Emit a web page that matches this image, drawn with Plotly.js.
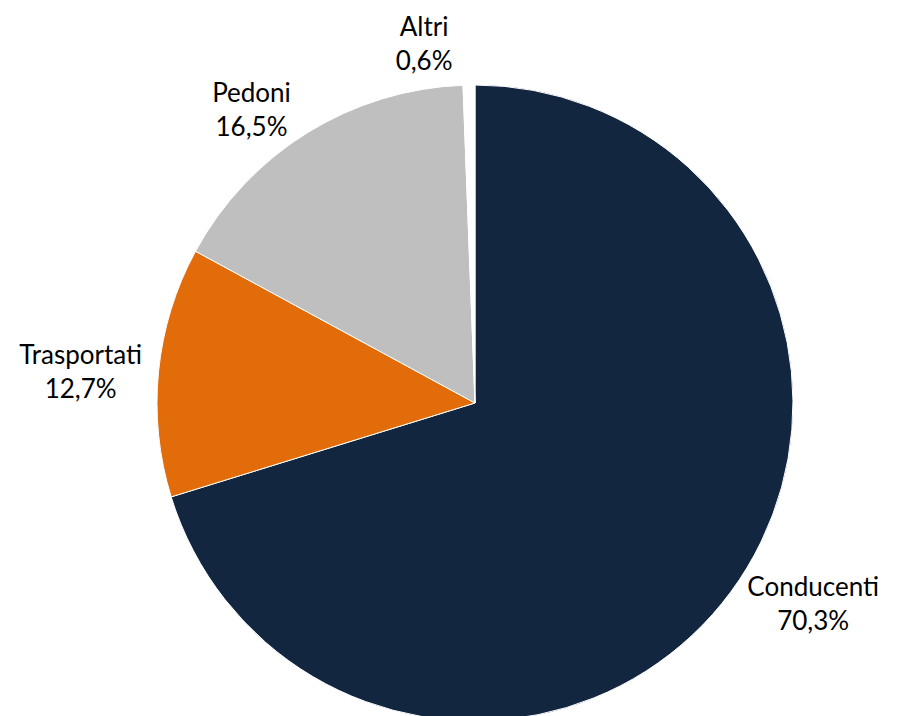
<!DOCTYPE html>
<html>
<head>
<meta charset="utf-8">
<script src="https://cdn.plot.ly/plotly-3.0.1.min.js"></script>
<style>
html, body { margin:0; padding:0; overflow:hidden; background:#fff; }
#chart { width:903px; height:721px; }
.textline { display:none; }
</style>
</head>
<body>
<div id="chart"></div>
<script>
const categories = ["Conducenti", "Trasportati", "Pedoni", "Altri"];
const shares = [70.3, 12.7, 16.5, 0.6];
const sliceColors = ["#12263f", "#e36c0a", "#bfbfbf", "#ffffff"];

const trace = {
  type: "pie",
  labels: categories,
  values: shares,
  sort: false,
  direction: "clockwise",
  rotation: 0,
  marker: { colors: sliceColors, line: { color: "#ffffff", width: 1 } },
  textposition: "outside",
  texttemplate: "%{label}<br>%{value:.1f}%",
  textfont: { family: "Lato, 'Open Sans', sans-serif", size: 26, color: "#000000" },
  hoverinfo: "none",
  domain: { x: [0.1, 0.952], y: [0, 1] },
  showlegend: false
};

const layout = {
  width: 903,
  height: 721,
  margin: { l: 0, r: 0, t: 85, b: 0 },
  separators: ",.",
  paper_bgcolor: "#ffffff",
  plot_bgcolor: "#ffffff",
  showlegend: false
};

Plotly.newPlot("chart", [trace], layout, { displayModeBar: false, staticPlot: true }).then(function (gd) {
  gd.querySelectorAll(".textline").forEach(function (el) { el.style.display = "none"; });
});
</script>
</body>
</html>
